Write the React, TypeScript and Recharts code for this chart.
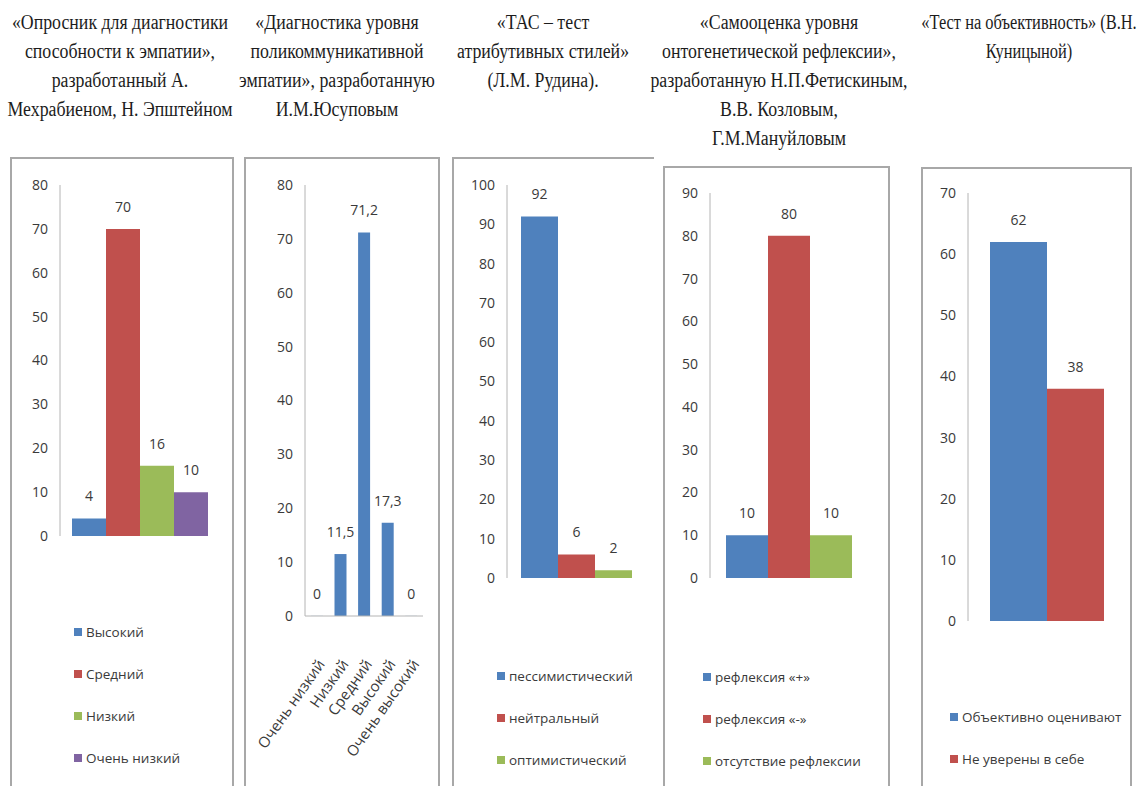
import React from "react";
import { BarChart, Bar, XAxis, YAxis, LabelList, Legend } from "recharts";

// --- data ---
const empathyLevels = ["Высокий", "Средний", "Низкий", "Очень низкий"];
const empathyValues = [4, 70, 16, 10];
const empathyTicks = [0, 10, 20, 30, 40, 50, 60, 70, 80];

const polyLevels = ["Очень низкий", "Низкий", "Средний", "Высокий", "Очень высокий"];
const polyValues = [0, 11.5, 71.2, 17.3, 0];
const polyTicks = [0, 10, 20, 30, 40, 50, 60, 70, 80];

const tasStyles = ["пессимистический", "нейтральный", "оптимистический"];
const tasValues = [92, 6, 2];
const tasTicks = [0, 10, 20, 30, 40, 50, 60, 70, 80, 90, 100];

const reflexTypes = ["рефлексия «+»", "рефлексия «-»", "отсутствие рефлексии"];
const reflexValues = [10, 80, 10];
const reflexTicks = [0, 10, 20, 30, 40, 50, 60, 70, 80, 90];

const objectivityGroups = ["Объективно оценивают", "Не уверены в себе"];
const objectivityValues = [62, 38];
const objectivityTicks = [0, 10, 20, 30, 40, 50, 60, 70];

const titleEmpathy = ["«Опросник для диагностики", "способности к эмпатии»,", "разработанный А.", "Мехрабиеном, Н. Эпштейном"];
const titlePoly = ["«Диагностика уровня", "поликоммуникативной", "эмпатии», разработанную", "И.М.Юсуповым"];
const titleTas = ["«ТАС – тест", "атрибутивных стилей»", "(Л.М. Рудина)."];
const titleReflex = ["«Самооценка уровня", "онтогенетической рефлексии»,", "разработанную Н.П.Фетискиным,", "В.В. Козловым,", "Г.М.Мануйловым"];
const titleObjectivity = ["«Тест на объективность» (В.Н.", "Куницыной)"];

const BLUE = "#4F81BD";
const RED = "#C0504D";
const GREEN = "#9BBB59";
const PURPLE = "#8064A2";

const AXIS = "#b4b4b4";
const TEXT = "#3a3a3a";
const SANS = '"Open Sans", "Noto Sans", sans-serif';
const SERIF = '"Liberation Serif", "Times New Roman", Times, "DejaVu Serif", serif';
const BORDER = "2px solid #a8a8a8";

const fmt = (v: any) => String(v).replace(".", ",");

function Title({ cx, lines, scale = 0.89 }: { cx: number; lines: string[]; scale?: number }) {
  return (
    <div
      style={{
        position: "absolute",
        left: cx - 160,
        top: 8,
        width: 320,
        textAlign: "center",
        fontFamily: SERIF,
        fontSize: 20,
        lineHeight: "29px",
        color: "#1c1c1c",
        transform: `scaleX(${scale})`,
        whiteSpace: "nowrap",
      }}
    >
      {lines.map((l) => (
        <div key={l}>{l}</div>
      ))}
    </div>
  );
}

function LegendList({ payload, order }: any) {
  const items = [...(payload || [])].sort(
    (a: any, b: any) => order.indexOf(a.value) - order.indexOf(b.value)
  );
  return (
    <div style={{ fontFamily: SANS, fontSize: 13.5, color: TEXT }}>
      {items.map((e: any) => (
        <div key={e.value} style={{ height: 42, display: "flex", alignItems: "center", whiteSpace: "nowrap" }}>
          <span style={{ width: 8, height: 8, background: e.color, marginRight: 4, display: "inline-block" }} />
          <span>{e.value}</span>
        </div>
      ))}
    </div>
  );
}

type GroupProps = {
  names: string[];
  values: number[];
  colors: string[];
  ticks: number[];
  left: number;
  top: number;
  width: number;
  height: number;
  yWidth: number;
  margin: { top: number; right: number; bottom: number; left: number };
  gap: number;
  legendTop: number;
  legendLeft: number;
};

function GroupPanel(p: GroupProps) {
  const row: any = { cat: "" };
  p.names.forEach((_, i) => (row[`s${i}`] = p.values[i]));
  return (
    <div style={{ position: "absolute", left: p.left, top: p.top }}>
      <BarChart
        width={p.width}
        height={p.height}
        data={[row]}
        margin={p.margin}
        barGap={0}
        barCategoryGap={p.gap}
        style={{ fontFamily: SANS }}
      >
        <XAxis dataKey="cat" height={0} tick={false} tickLine={false} axisLine={{ stroke: AXIS }} />
        <YAxis
          domain={[0, p.ticks[p.ticks.length - 1]]}
          ticks={p.ticks}
          interval={0}
          width={p.yWidth}
          tickLine={false}
          tickMargin={6}
          axisLine={{ stroke: AXIS }}
          tick={{ fontSize: 14, fill: TEXT }}
        />
        {p.names.map((n, i) => (
          <Bar key={n} dataKey={`s${i}`} name={n} fill={p.colors[i]} isAnimationActive={false}>
            <LabelList dataKey={`s${i}`} position="top" offset={17} fill={TEXT} fontSize={14} formatter={fmt} />
          </Bar>
        ))}
        <Legend
          layout="vertical"
          align="center"
          verticalAlign="middle"
          content={<LegendList order={p.names} />}
          wrapperStyle={{ top: p.legendTop, left: p.legendLeft, width: 200 }}
        />
      </BarChart>
    </div>
  );
}

function PolyPanel() {
  const data = polyLevels.map((name, i) => ({ name, value: polyValues[i] }));
  return (
    <div style={{ position: "absolute", left: 244, top: 158 }}>
      <BarChart
        width={194}
        height={628}
        data={data}
        margin={{ top: 27, right: 15, bottom: 20, left: 0 }}
        barCategoryGap="25%"
        style={{ fontFamily: SANS }}
      >
        <XAxis
          dataKey="name"
          height={150}
          interval={0}
          tickLine={false}
          tickMargin={36}
          axisLine={{ stroke: AXIS }}
          tick={{ fontSize: 15, fill: TEXT, angle: -55, textAnchor: "end" }}
        />
        <YAxis
          domain={[0, 80]}
          ticks={polyTicks}
          interval={0}
          width={61}
          tickLine={false}
          tickMargin={6}
          axisLine={{ stroke: AXIS }}
          tick={{ fontSize: 14, fill: TEXT }}
        />
        <Bar
          dataKey="value"
          fill={BLUE}
          isAnimationActive={false}
          minPointSize={(v: number) => (v === 0 ? 0.1 : 0)}
        >
          <LabelList dataKey="value" position="top" offset={17} fill={TEXT} fontSize={14} formatter={fmt} />
        </Bar>
      </BarChart>
    </div>
  );
}

export default function App() {
  return (
    <div
      style={{
        position: "fixed",
        left: 0,
        top: 0,
        width: 1138,
        height: 786,
        overflow: "hidden",
        background: "#fff",
      }}
    >
      <Title cx={120} lines={titleEmpathy} />
      <Title cx={337} lines={titlePoly} />
      <Title cx={543} lines={titleTas} />
      <Title cx={779} lines={titleReflex} />
      <Title cx={1029} lines={titleObjectivity} scale={0.82} />

      <div style={{ position: "absolute", left: 10, top: 157, width: 220, height: 700, border: BORDER }} />
      <div style={{ position: "absolute", left: 244, top: 157, width: 192, height: 700, border: BORDER }} />
      <div style={{ position: "absolute", left: 452, top: 157, width: 200, height: 700, borderLeft: BORDER, borderTop: BORDER }} />
      <div style={{ position: "absolute", left: 663, top: 166, width: 223, height: 700, border: BORDER }} />
      <div style={{ position: "absolute", left: 921, top: 167, width: 207, height: 700, border: BORDER }} />

      <GroupPanel
        names={empathyLevels}
        values={empathyValues}
        colors={[BLUE, RED, GREEN, PURPLE]}
        ticks={empathyTicks}
        left={10}
        top={158}
        width={222}
        height={628}
        yWidth={50}
        margin={{ top: 27, right: 14, bottom: 250, left: 0 }}
        gap={12}
        legendTop={453}
        legendLeft={64}
      />
      <PolyPanel />
      <GroupPanel
        names={tasStyles}
        values={tasValues}
        colors={[BLUE, RED, GREEN]}
        ticks={tasTicks}
        left={453}
        top={158}
        width={197}
        height={628}
        yWidth={54}
        margin={{ top: 27, right: 5, bottom: 208, left: 0 }}
        gap={14}
        legendTop={497}
        legendLeft={44}
      />
      <GroupPanel
        names={reflexTypes}
        values={reflexValues}
        colors={[BLUE, RED, GREEN]}
        ticks={reflexTicks}
        left={664}
        top={167}
        width={224}
        height={619}
        yWidth={46}
        margin={{ top: 26, right: 20, bottom: 208, left: 0 }}
        gap={16}
        legendTop={489}
        legendLeft={39}
      />
      <GroupPanel
        names={objectivityGroups}
        values={objectivityValues}
        colors={[BLUE, RED]}
        ticks={objectivityTicks}
        left={922}
        top={168}
        width={208}
        height={618}
        yWidth={46}
        margin={{ top: 25, right: 5, bottom: 165, left: 0 }}
        gap={22}
        legendTop={528}
        legendLeft={28}
      />
    </div>
  );
}
